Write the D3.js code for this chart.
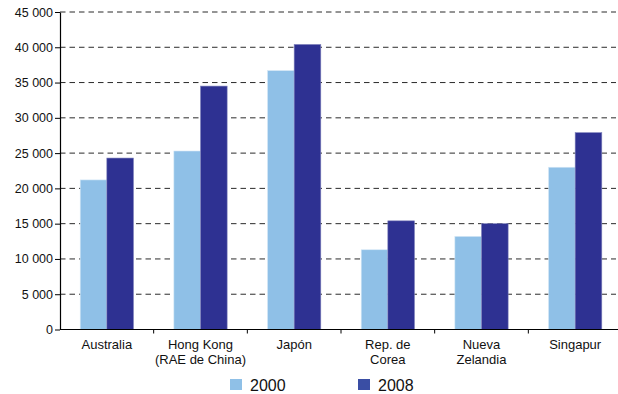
<!DOCTYPE html>
<html>
<head>
<meta charset="utf-8">
<script src="https://cdn.jsdelivr.net/npm/d3@7"></script>
<style>
  html, body { margin: 0; padding: 0; background: #fff; }
  svg { display: block; font-family: "Liberation Sans", Arial, Helvetica, sans-serif; }
</style>
</head>
<body>
<svg id="chart" width="618" height="394"></svg>
<script>
// Categories (multi-line labels split with "\n")
const categories = ["Australia", "Hong Kong\n(RAE de China)", "Japón", "Rep. de\nCorea", "Nueva\nZelandia", "Singapur"];
const seriesNames = ["2000", "2008"];
const values2000 = [21200, 25300, 36700, 11300, 13200, 23000];
const values2008 = [24300, 34500, 40400, 15400, 15000, 27900];
const yTicks = [0, 5000, 10000, 15000, 20000, 25000, 30000, 35000, 40000, 45000];
const colors = ["#8fc0e7", "#2e3192"];
const legendColors = ["#8fc0e7", "#3a4ea4"];

const svg = d3.select("#chart");
const plotLeft = 60, plotRight = 622, plotTop = 12, plotBottom = 329.5;

const x0 = d3.scaleBand().domain(categories).range([plotLeft, plotRight]).paddingInner(0).paddingOuter(0);
const x1 = d3.scaleBand().domain(seriesNames).range([0, x0.bandwidth()]).paddingInner(0).paddingOuter(0.758);
const y = d3.scaleLinear().domain([0, 45000]).range([plotBottom, plotTop]);

const fmt = v => d3.format(",")(v).replace(/,/g, " ");

// Dashed horizontal gridlines
svg.append("g")
  .selectAll("line")
  .data(yTicks.filter(t => t > 0))
  .join("line")
  .attr("x1", plotLeft).attr("x2", 616)
  .attr("y1", d => y(d)).attr("y2", d => y(d))
  .attr("stroke", "#2b2b2b")
  .attr("stroke-width", 1)
  .attr("stroke-dasharray", "5.5,4");

// Bars
const rows = categories.map((c, i) => ({ cat: c, vals: [values2000[i], values2008[i]] }));
svg.append("g")
  .selectAll("g")
  .data(rows)
  .join("g")
  .attr("transform", d => `translate(${x0(d.cat)},0)`)
  .selectAll("rect")
  .data(d => d.vals.map((v, j) => ({ s: seriesNames[j], v, j })))
  .join("rect")
  .attr("x", d => x1(d.s))
  .attr("width", x1.bandwidth())
  .attr("y", d => y(d.v))
  .attr("height", d => plotBottom - y(d.v))
  .attr("fill", d => colors[d.j])
  .attr("stroke", d => d.j === 0 ? "#d6e8f6" : "#7f82bb")
  .attr("stroke-width", 0.6);

// Y axis
const yAxis = d3.axisLeft(y).tickValues(yTicks).tickFormat(fmt).tickSize(5).tickSizeOuter(0);
const gy = svg.append("g").attr("transform", `translate(${plotLeft},0)`).call(yAxis);
gy.select(".domain").attr("stroke", "#000").attr("stroke-width", 1.2);
gy.selectAll(".tick line").attr("stroke", "#000");
gy.selectAll(".tick text")
  .attr("font-size", 12.5)
  .attr("fill", "#111")
  .attr("x", -7)
  .attr("font-family", "'Liberation Sans', Arial, sans-serif");

// X axis baseline with boundary ticks
const gx = svg.append("g");
gx.append("line")
  .attr("x1", plotLeft).attr("x2", plotRight)
  .attr("y1", plotBottom).attr("y2", plotBottom)
  .attr("stroke", "#000").attr("stroke-width", 1.2);
gx.selectAll("line.tk")
  .data(categories.slice(1))
  .join("line")
  .attr("class", "tk")
  .attr("x1", d => x0(d)).attr("x2", d => x0(d))
  .attr("y1", plotBottom).attr("y2", plotBottom + 4)
  .attr("stroke", "#000").attr("stroke-width", 1);

// Category labels
gx.selectAll("text.cat")
  .data(categories)
  .join("text")
  .attr("class", "cat")
  .attr("text-anchor", "middle")
  .attr("font-size", 13)
  .attr("fill", "#111")
  .attr("x", d => x0(d) + x0.bandwidth() / 2)
  .attr("y", 349)
  .each(function(d) {
    const lines = d.split("\n");
    d3.select(this).selectAll("tspan")
      .data(lines)
      .join("tspan")
      .attr("x", x0(d) + x0.bandwidth() / 2)
      .attr("dy", (l, i) => i === 0 ? 0 : 14.5)
      .text(l => l);
  });

// Legend
const legendX = [230, 358];
const lg = svg.append("g")
  .selectAll("g")
  .data(seriesNames)
  .join("g")
  .attr("transform", (d, i) => `translate(${legendX[i]},379)`);
lg.append("rect")
  .attr("width", 12).attr("height", 11)
  .attr("fill", (d, i) => legendColors[i]);
lg.append("text")
  .attr("x", 20).attr("y", 11.5)
  .attr("font-size", 16)
  .attr("fill", "#111")
  .text(d => d);
</script>
</body>
</html>
